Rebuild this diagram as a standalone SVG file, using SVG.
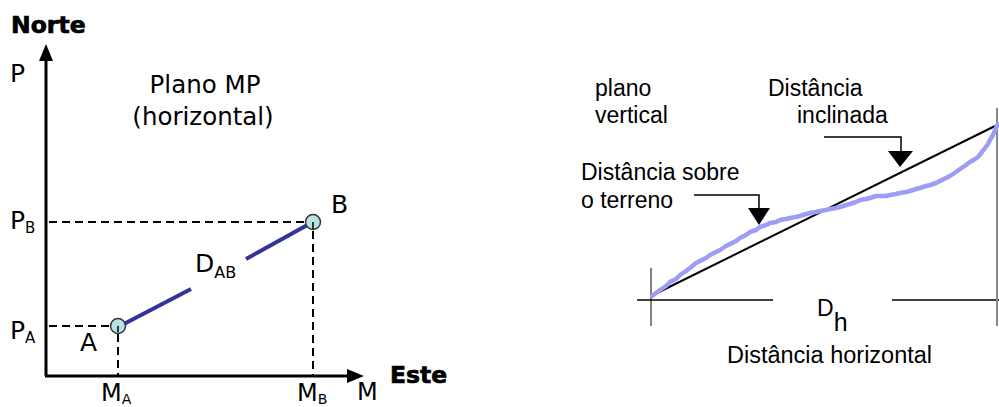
<svg xmlns="http://www.w3.org/2000/svg" width="999" height="407" viewBox="0 0 999 407">
<style>
.v{font-family:"DejaVu Sans",Verdana,sans-serif;fill:#000}
.vb{font-family:"DejaVu Sans",Verdana,sans-serif;font-weight:bold;fill:#000;stroke:#000;stroke-width:0.7}
.a{font-family:"Liberation Sans",Arial,sans-serif;fill:#000}
.axis{stroke:#000;stroke-width:3;fill:none}
.dash{stroke:#000;stroke-width:2;stroke-dasharray:8,5;fill:none}
.pt{fill:#b9e2e4;stroke:#333;stroke-width:1.5}
.ab{stroke:#33339a;stroke-width:4;fill:none}
.thin{stroke:#000;stroke-width:1.5;fill:none}
</style>
<rect width="999" height="407" fill="#fff"/>

<g id="axes">
<line class="axis" x1="46" y1="376" x2="46" y2="60"/>
<path d="M39,61 L46,44 L53,61 Z" fill="#000"/>
<line class="axis" x1="45" y1="376" x2="348" y2="376"/>
<path d="M347,369 L364,376 L347,383 Z" fill="#000"/>
<text class="vb" x="11" y="33" font-size="23.5">Norte</text>
<text class="vb" x="390" y="383" font-size="23.5">Este</text>
<text class="v" x="10" y="82" font-size="25">P</text>
<text class="v" x="357" y="400" font-size="24">M</text>
</g>

<g id="title">
<text class="v" x="205" y="93" font-size="24.5" text-anchor="middle">Plano MP</text>
<text class="v" x="203" y="125" font-size="24.5" text-anchor="middle">(horizontal)</text>
</g>

<g id="connectors">
<line class="dash" x1="49" y1="222" x2="308" y2="222"/>
<line class="dash" x1="49" y1="326" x2="112" y2="326"/>
<line class="dash" x1="118" y1="334" x2="118" y2="375"/>
<line class="dash" x1="313" y1="231" x2="313" y2="375"/>
<line class="ab" x1="120" y1="326" x2="191" y2="289"/>
<line class="ab" x1="246" y1="259" x2="311" y2="223"/>
</g>

<g id="pointA">
<circle class="pt" cx="118" cy="326" r="7.5"/>
<path d="M118,326 L118,332" stroke="#000" stroke-width="1.5"/>
<text class="v" x="80" y="351" font-size="25">A</text>
</g>
<g id="pointB">
<circle class="pt" cx="313" cy="222" r="7.5"/>
<path d="M313,222 L313,229" stroke="#000" stroke-width="1.5"/>
<text class="v" x="331" y="213" font-size="25">B</text>
</g>

<g id="labels">
<text class="v" x="10" y="229" font-size="25">P<tspan font-size="15" dy="4">B</tspan></text>
<text class="v" x="10" y="339" font-size="25">P<tspan font-size="15" dy="4">A</tspan></text>
<text class="v" x="101" y="401" font-size="24">M<tspan font-size="14" dy="3">A</tspan></text>
<text class="v" x="297" y="401" font-size="24">M<tspan font-size="14" dy="3">B</tspan></text>
<text class="v" x="195" y="272" font-size="25">D<tspan font-size="16" dy="6">AB</tspan></text>
</g>

<g id="vertical-plane">
<text class="a" x="595" y="96" font-size="23">plano</text>
<text class="a" x="595" y="123" font-size="23">vertical</text>
<text class="a" x="768" y="96" font-size="23">Distância</text>
<text class="a" x="797" y="123" font-size="23">inclinada</text>
<text class="a" x="581" y="180" font-size="23">Distância sobre</text>
<text class="a" x="581" y="208" font-size="23">o terreno</text>

<line x1="651" y1="268" x2="651" y2="326" stroke="#000" stroke-width="1"/>
<line x1="637" y1="300" x2="773" y2="300" stroke="#000" stroke-width="1.5"/>
<line x1="892" y1="300" x2="999" y2="300" stroke="#000" stroke-width="1.5"/>
<line x1="997" y1="108" x2="997" y2="326" stroke="#888" stroke-width="2"/>
<line x1="651" y1="296" x2="995" y2="126" stroke="#000" stroke-width="2"/>
<polyline fill="none" stroke="#9d9df5" stroke-width="4.5" stroke-linejoin="round" stroke-linecap="round"
 points="652,296 660,290 666,286 670,282 676,279 680,275 686,271 690,268 696,263 700,261 706,258 710,255 716,252 720,250 726,246 730,244 736,241 740,238 746,235 750,232 756,230 760,227 766,225 770,223 776,222 780,220 786,219 790,218 796,217 800,216 806,214 810,213 816,212 820,211 826,210 830,209 836,208 840,207 846,205 850,204 856,202 860,200 866,199 870,198 876,196 880,196 886,196 890,195 896,194 900,193 906,192 910,191 916,189 920,188 926,186 930,185 936,183 940,181 946,178 950,176 956,172 960,169 966,165 970,162 975,159 978,157 982,152 985,148 988,144 990,140 993,135 995,130 998,124"/>
<path class="thin" d="M824,137 L901,137 L901,152"/>
<path d="M888,151 L913,151 L900,167 Z" fill="#000"/>
<path class="thin" d="M694,195 L759,195 L759,209"/>
<path d="M748,208 L770,208 L759,225 Z" fill="#000"/>

<text class="a" x="817" y="316" font-size="23">D<tspan font-size="25" dy="15">h</tspan></text>
<text class="a" x="727" y="363" font-size="23.5">Distância horizontal</text>
</g>
</svg>
